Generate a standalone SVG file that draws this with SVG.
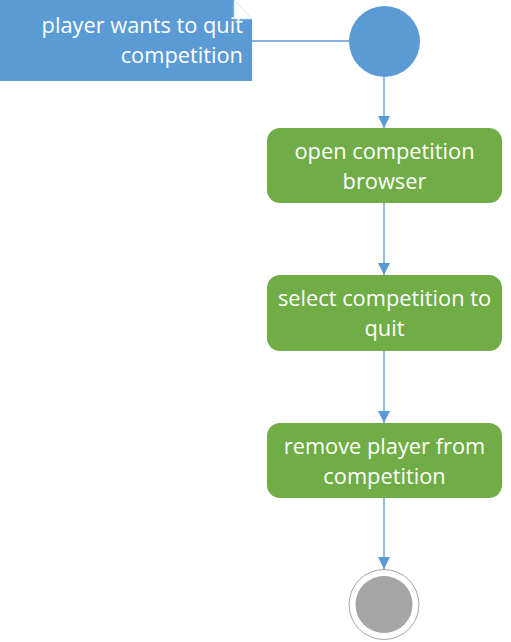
<svg xmlns="http://www.w3.org/2000/svg" width="511" height="642" viewBox="0 0 511 642">
<style>
.act{fill:#70AD47;}
.t{font-family:"Open Sans","Liberation Sans",sans-serif;font-size:21.8px;fill:#FFFFFF;}
.c{text-anchor:middle;}
.edge{stroke:#5B9BD5;stroke-width:1.3;fill:none;}
</style>
<defs>
<marker id="ah" markerWidth="12" markerHeight="12" refX="12" refY="6" orient="auto" markerUnits="userSpaceOnUse">
<path d="M0,0 L12,6 L0,12 Z" fill="#5B9BD5"/>
</marker>
</defs>
<rect width="511" height="642" fill="#FFFFFF"/>
<g id="connectors">
<line class="edge" x1="252" y1="41" x2="349" y2="41"/>
<line class="edge" x1="384" y1="77" x2="384" y2="128" marker-end="url(#ah)"/>
<line class="edge" x1="384" y1="203" x2="384" y2="275" marker-end="url(#ah)"/>
<line class="edge" x1="384" y1="351" x2="384" y2="423" marker-end="url(#ah)"/>
<line class="edge" x1="384" y1="498" x2="384" y2="569" marker-end="url(#ah)"/>
</g>
<g id="note">
<path d="M0,0 L234,0 L252,19 L252,81 L0,81 Z" fill="#5B9BD5"/>
<path d="M234,0 L234,19 L252,19" fill="#FFFFFF" stroke="#BDD7EE" stroke-width="0.8"/>
<text class="t" x="243" y="33" text-anchor="end">player wants to quit</text>
<text class="t" x="243" y="63" text-anchor="end">competition</text>
</g>
<g id="start">
<circle cx="384.5" cy="41.5" r="35.5" fill="#5B9BD5"/>
</g>
<g id="open">
<rect class="act" x="267" y="128" width="235" height="75" rx="13"/>
<text class="t c" x="384.5" y="159">open competition</text>
<text class="t c" x="384.5" y="189">browser</text>
</g>
<g id="select">
<rect class="act" x="267" y="275" width="235" height="76" rx="13"/>
<text class="t c" x="384.5" y="306">select competition to</text>
<text class="t c" x="384.5" y="336">quit</text>
</g>
<g id="remove">
<rect class="act" x="267" y="423" width="235" height="75" rx="13"/>
<text class="t c" x="384.5" y="454">remove player from</text>
<text class="t c" x="384.5" y="484">competition</text>
</g>
<g id="end">
<circle cx="384" cy="604.5" r="35" fill="#FFFFFF" stroke="#A5A5A5" stroke-width="1"/>
<circle cx="384" cy="604.5" r="28.5" fill="#A5A5A5"/>
</g>
</svg>
